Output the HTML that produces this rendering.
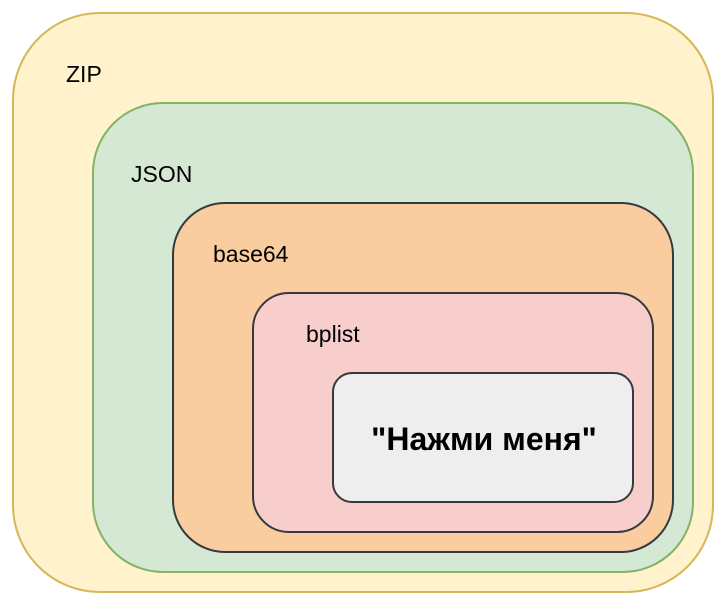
<!DOCTYPE html>
<html><head><meta charset="utf-8"><style>body{margin:0;background:#fff}</style></head><body>
<svg width="728" height="604" xmlns="http://www.w3.org/2000/svg" font-family="Liberation Sans, Arial, sans-serif">
<rect x="13" y="13" width="700" height="579" rx="87" fill="#fff2cc" stroke="#d6b656" stroke-width="2"/>
<rect x="93" y="103" width="600" height="469" rx="70" fill="#d5e8d4" stroke="#82b366" stroke-width="2"/>
<rect x="173" y="203" width="500" height="349" rx="52" fill="#f9cda0" stroke="#36393d" stroke-width="2"/>
<rect x="253" y="293" width="400" height="239" rx="36" fill="#f8cecc" stroke="#36393d" stroke-width="2"/>
<rect x="333" y="373" width="300" height="129" rx="19" fill="#eeeeee" stroke="#36393d" stroke-width="2"/>
<text x="66" y="82" font-size="23">ZIP</text>
<text x="131" y="182" font-size="23">JSON</text>
<text x="213" y="262" font-size="23">base64</text>
<text x="306" y="342" font-size="23">bplist</text>
<text x="484" y="450" font-size="32" font-weight="bold" text-anchor="middle">"Нажми меня"</text>
</svg>
</body></html>
